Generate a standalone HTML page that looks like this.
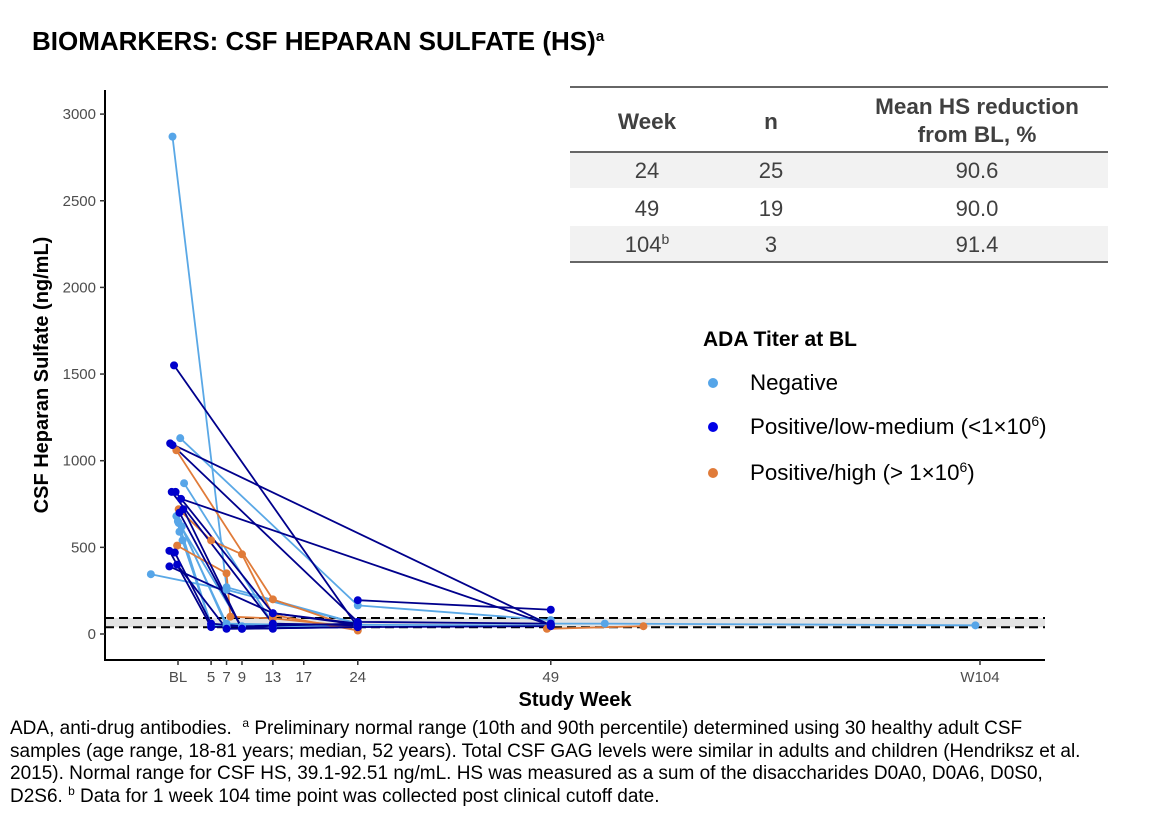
<!DOCTYPE html>
<html><head><meta charset="utf-8">
<style>
body{margin:0;background:#fff;font-family:"Liberation Sans",Arial,sans-serif;}
#wrap{position:relative;width:1162px;height:838px;overflow:hidden;}
svg text{font-family:"Liberation Sans",Arial,sans-serif;}
.foot{position:absolute;left:10px;top:718px;font-size:19px;line-height:22.5px;color:#000;white-space:nowrap;}
.foot sup{font-size:12px;line-height:0;vertical-align:baseline;position:relative;top:-7px;}
</style></head>
<body>
<div id="wrap">
<svg id="chart" width="1162" height="838">
<text x="32" y="50" font-size="26" font-weight="bold">BIOMARKERS: CSF HEPARAN SULFATE (HS)<tspan font-size="15" dy="-9">a</tspan></text>
<g id="table">
<rect x="570" y="152" width="538" height="36" fill="#f2f2f2"/>
<rect x="570" y="226" width="538" height="36" fill="#f2f2f2"/>
<line x1="570" y1="87" x2="1108" y2="87" stroke="#666" stroke-width="2"/>
<line x1="570" y1="152" x2="1108" y2="152" stroke="#666" stroke-width="2"/>
<line x1="570" y1="262" x2="1108" y2="262" stroke="#666" stroke-width="2"/>
<g font-size="22.5" font-weight="bold" fill="#404040" text-anchor="middle">
<text x="647" y="129">Week</text>
<text x="771" y="129">n</text>
<text x="977" y="114">Mean HS reduction</text>
<text x="977" y="142">from BL, %</text>
</g>
<g font-size="22" fill="#404040" text-anchor="middle">
<text x="647" y="178">24</text>
<text x="771" y="178">25</text>
<text x="977" y="178">90.6</text>
<text x="647" y="216">49</text>
<text x="771" y="216">19</text>
<text x="977" y="216">90.0</text>
<text x="647" y="252">104<tspan font-size="14" dy="-8">b</tspan></text>
<text x="771" y="252">3</text>
<text x="977" y="252">91.4</text>
</g>
</g>
<g>
<text x="703" y="346" font-size="21" font-weight="bold">ADA Titer at BL</text>
<circle cx="713" cy="383" r="5" fill="#56a5e8"/>
<text x="750" y="390" font-size="22.3">Negative</text>
<circle cx="713" cy="427" r="5" fill="#0000e6"/>
<text x="750" y="434" font-size="22.3">Positive/low-medium (&lt;1×10<tspan font-size="14" dy="-8">6</tspan><tspan dy="8">)</tspan></text>
<circle cx="713" cy="473" r="5" fill="#e07b39"/>
<text x="750" y="480" font-size="22.3">Positive/high (&gt; 1×10<tspan font-size="14" dy="-8">6</tspan><tspan dy="8">)</tspan></text>
</g>
</svg>
<div class="foot">ADA, anti-drug antibodies.&nbsp; <sup>a</sup> Preliminary normal range (10th and 90th percentile) determined using 30 healthy adult CSF<br>samples (age range, 18-81 years; median, 52 years). Total CSF GAG levels were similar in adults and children (Hendriksz et al.<br>2015). Normal range for CSF HS, 39.1-92.51 ng/mL. HS was measured as a sum of the disaccharides D0A0, D0A6, D0S0,<br>D2S6. <sup>b</sup> Data for 1 week 104 time point was collected post clinical cutoff date.</div>
</div>
<script>
const yTicks=[0,500,1000,1500,2000,2500,3000];
const xTickWeeks=[1,5,7,9,13,17,24,49,104];
const xTickLabels=["BL","5","7","9","13","17","24","49","W104"];
const normalRange=[39.1,92.51];
const subjGroup=["neg","neg","neg","neg","neg","neg","neg","neg","neg","neg","low","low","low","low","low","low","low","low","low","low","low","low","low","high","high","high","high","neg"];
const subjWeeks=[
[0,7,24],[1,24,49],[1.5,13,24],[0.5,7,24],[-2.8,7,24],[0.8,5,13],[1.2,7,24],[0.9,5,9],[1.3,5,49],[0.7,9,24],
[0.2,24,49],[-0.3,49],[0,24,49],[-0.1,13,24],[0.4,13,24],[1.1,49],[1.4,9,24],[0.9,9,13],[-0.4,5,24],[0.3,5,13],[0.6,7,24],[-0.4,13,24],[24,49],
[0.5,13,24],[0.8,5,9,13,24],[0.6,7,7.5,13,24],[48.5,61],[49,56,104]];
const subjValues=[
[2870,270,60],[1130,165,80],[870,60,50],[680,60,45],[345,255,60],[640,50,40],[620,45,50],[590,50,45],[540,55,50],[650,40,40],
[1550,40,45],[1100,50],[1090,70,60],[820,60,50],[820,120,55],[780,50],[720,30,40],[700,30,50],[480,40,60],[470,60,30],[400,30,40],[390,120,60],[195,140],
[1060,200,30],[720,540,460,110,20],[510,350,100,90,40],[30,45],[60,60,50]];
const NS="http://www.w3.org/2000/svg";
const svg=document.getElementById('chart');
const X0=105,X1=1045,Y0=660;
function xs(w){return 172.5+w*7.72;}
function ys(v){return 634-v*0.1733;}
const colLine={neg:"#5aa8e6",low:"#00008c",high:"#e07b39"};
const colPt={neg:"#56a5e8",low:"#0000cc",high:"#e07b39"};
function el(t,a){const e=document.createElementNS(NS,t);for(const k in a)e.setAttribute(k,a[k]);svg.appendChild(e);return e;}
let band=el('rect',{x:X0+1,y:ys(normalRange[1]),width:X1-X0-1,height:ys(normalRange[0])-ys(normalRange[1]),fill:'#e3e3e3'});


normalRange.forEach((v,i)=>{const l=el('line',{x1:X0,x2:X1,y1:ys(v),y2:ys(v),stroke:'#000','stroke-width':2,'stroke-dasharray':'9 5'});

});
let ya=el('line',{x1:X0,x2:X0,y1:90,y2:Y0,stroke:'#000','stroke-width':2});


let xa=el('line',{x1:X0-1,x2:X1,y1:Y0,y2:Y0,stroke:'#000','stroke-width':2});


yTicks.forEach(v=>{const y=ys(v);el('line',{x1:X0-5,x2:X0,y1:y,y2:y,stroke:'#333','stroke-width':1.5});
const t=el('text',{x:X0-9,y:y+5,'font-size':15,fill:'#4d4d4d','text-anchor':'end'});t.textContent=v;

});
xTickWeeks.forEach((w,i)=>{let x=xs(w);if(w===104)x=980;if(w===1)x=178;
el('line',{x1:x,x2:x,y1:Y0,y2:Y0+5,stroke:'#333','stroke-width':1.5});
const t=el('text',{x:x,y:Y0+22,'font-size':15,fill:'#4d4d4d','text-anchor':'middle'});t.textContent=xTickLabels[i];

});
let xt=el('text',{x:575,y:706,'font-size':20,'font-weight':'bold','text-anchor':'middle'});xt.textContent='Study Week';


let yt=el('text',{x:0,y:0,'font-size':20,'font-weight':'bold','text-anchor':'middle',transform:'translate(48,375) rotate(-90)'});yt.textContent='CSF Heparan Sulfate (ng/mL)';


['neg','high','low'].forEach(g=>{subjGroup.forEach((sg,i)=>{if(sg!==g)return;
const pts=subjWeeks[i].map((w,j)=>xs(w)+','+ys(subjValues[i][j])).join(' ');
const pl=el('polyline',{points:pts,fill:'none',stroke:colLine[g],'stroke-width':1.8});

});});
['neg','high','low'].forEach(g=>{subjGroup.forEach((sg,i)=>{if(sg!==g)return;
subjWeeks[i].forEach((w,j)=>{const c=el('circle',{cx:xs(w),cy:ys(subjValues[i][j]),r:4,fill:colPt[g]});

});});});
</script>
</body></html>
